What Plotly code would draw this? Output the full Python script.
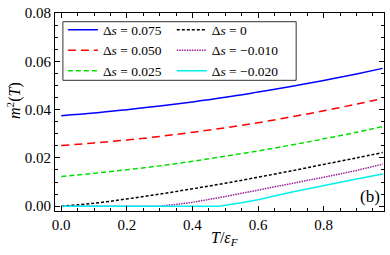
import plotly.graph_objects as go

T = [0.0, 0.1, 0.2, 0.3, 0.4, 0.5, 0.6, 0.7, 0.8, 0.9, 0.98]
m2_p075 = [0.0375, 0.0386, 0.0400, 0.0415, 0.0432, 0.0451, 0.0473, 0.0496, 0.0521, 0.0548, 0.0571]
m2_p050 = [0.0251, 0.0262, 0.0274, 0.0289, 0.0306, 0.0325, 0.0346, 0.0370, 0.0395, 0.0423, 0.0446]
m2_p025 = [0.0123, 0.0136, 0.0151, 0.0167, 0.0186, 0.0207, 0.0229, 0.0253, 0.0279, 0.0306, 0.0330]
m2_0 = [0.0, 0.0012, 0.0030, 0.0050, 0.0072, 0.0095, 0.0120, 0.0146, 0.0173, 0.0200, 0.0222]

T_m010 = [0.0, 0.1, 0.2, 0.3, 0.35, 0.4, 0.5, 0.6, 0.7, 0.8, 0.9, 0.98]
m2_m010 = [0.0, 0.0, 0.0, 0.0, 0.0007, 0.0016, 0.0040, 0.0066, 0.0092, 0.0120, 0.0148, 0.0174]

T_m020 = [0.0, 0.1, 0.2, 0.3, 0.4, 0.48, 0.55, 0.6, 0.7, 0.8, 0.9, 0.98]
m2_m020 = [0.0, 0.0, 0.0, 0.0, 0.0, 0.0, 0.0014, 0.0027, 0.0058, 0.0087, 0.0113, 0.0133]

labels = ["Δ<i>s</i> = 0.075", "Δ<i>s</i> = 0.050", "Δ<i>s</i> = 0.025",
          "Δ<i>s</i> = 0", "Δ<i>s</i> = −0.010", "Δ<i>s</i> = −0.020"]

x_ticks = [0.0, 0.2, 0.4, 0.6, 0.8]
x_ticklabels = ["0.0", "0.2", "0.4", "0.6", "0.8"]
y_ticks = [0.00, 0.02, 0.04, 0.06, 0.08]
y_ticklabels = ["0.00", "0.02", "0.04", "0.06", "0.08"]

FONT = "Liberation Serif, DejaVu Serif, serif"

fig = go.Figure()
fig.add_trace(go.Scatter(x=T, y=m2_p075, mode="lines", name=labels[0], legend="legend",
                         line=dict(color="#0000ff", width=1.5, shape="spline")))
fig.add_trace(go.Scatter(x=T, y=m2_p050, mode="lines", name=labels[1], legend="legend",
                         line=dict(color="#ff0000", width=1.5, dash="8px,5px", shape="spline")))
fig.add_trace(go.Scatter(x=T, y=m2_p025, mode="lines", name=labels[2], legend="legend",
                         line=dict(color="#00e000", width=1.5, dash="5px,3px", shape="spline")))
fig.add_trace(go.Scatter(x=T, y=m2_0, mode="lines", name=labels[3], legend="legend2",
                         line=dict(color="#000000", width=1.5, dash="3px,2px", shape="spline")))
fig.add_trace(go.Scatter(x=T_m010, y=m2_m010, mode="lines", name=labels[4], legend="legend2",
                         line=dict(color="#9a1f9a", width=1.5, dash="1.5px,1px")))
fig.add_trace(go.Scatter(x=T_m020, y=m2_m020, mode="lines", name=labels[5], legend="legend2",
                         line=dict(color="#00f0f0", width=1.5)))

axis_common = dict(
    showline=True, linecolor="black", linewidth=1.2, mirror="allticks",
    ticks="inside", ticklen=5, tickwidth=1, tickcolor="black",
    showgrid=False, zeroline=False, ticklabeloverflow="allow",
    tickfont=dict(family=FONT, size=15, color="black"),
)

fig.update_xaxes(range=[-0.019, 0.984], tickvals=x_ticks, ticktext=x_ticklabels,
                 minor=dict(ticks="inside", ticklen=3, dtick=0.05, tick0=0, tickcolor="black"),
                 **axis_common)
fig.update_yaxes(range=[-0.002, 0.08005], tickvals=y_ticks, ticktext=y_ticklabels,
                 minor=dict(ticks="inside", ticklen=3, dtick=0.005, tick0=0, tickcolor="black"),
                 **axis_common)

legend_common = dict(font=dict(family=FONT, size=13.5, color="black"), bgcolor="rgba(0,0,0,0)",
                     borderwidth=0, yanchor="top", xanchor="left", tracegroupgap=0)
fig.update_layout(
    width=390, height=255,
    margin=dict(l=55, r=5, t=5, b=44),
    paper_bgcolor="white", plot_bgcolor="white",
    legend=dict(x=0.024, y=0.993, **legend_common),
    legend2=dict(x=0.355, y=0.993, **legend_common),
    shapes=[dict(type="rect", xref="paper", yref="paper", x0=0.024, x1=0.733, y0=0.660, y1=0.956,
                 line=dict(color="#333333", width=1), fillcolor="white", layer="below")],
    annotations=[
        dict(text="<i>T</i>/<i>ε</i><sub><i>F</i></sub>", xref="paper", yref="paper", x=0.515, y=-0.14,
             xanchor="center", yanchor="middle", showarrow=False, font=dict(family=FONT, size=16, color="black")),
        dict(text="<i>m</i><sup>2</sup>(<i>T</i>)", xref="paper", yref="paper", x=-0.125, y=0.56,
             xanchor="center", yanchor="middle", showarrow=False, textangle=-90,
             font=dict(family=FONT, size=16, color="black")),
        dict(text="(b)", xref="paper", yref="paper", x=0.958, y=0.073, xanchor="center", yanchor="middle",
             showarrow=False, font=dict(family=FONT, size=17, color="black")),
    ],
    showlegend=True,
)

fig.write_html("out.html", config={"displayModeBar": False},
               post_script="document.body.style.margin='0';document.body.style.overflow='hidden';")
